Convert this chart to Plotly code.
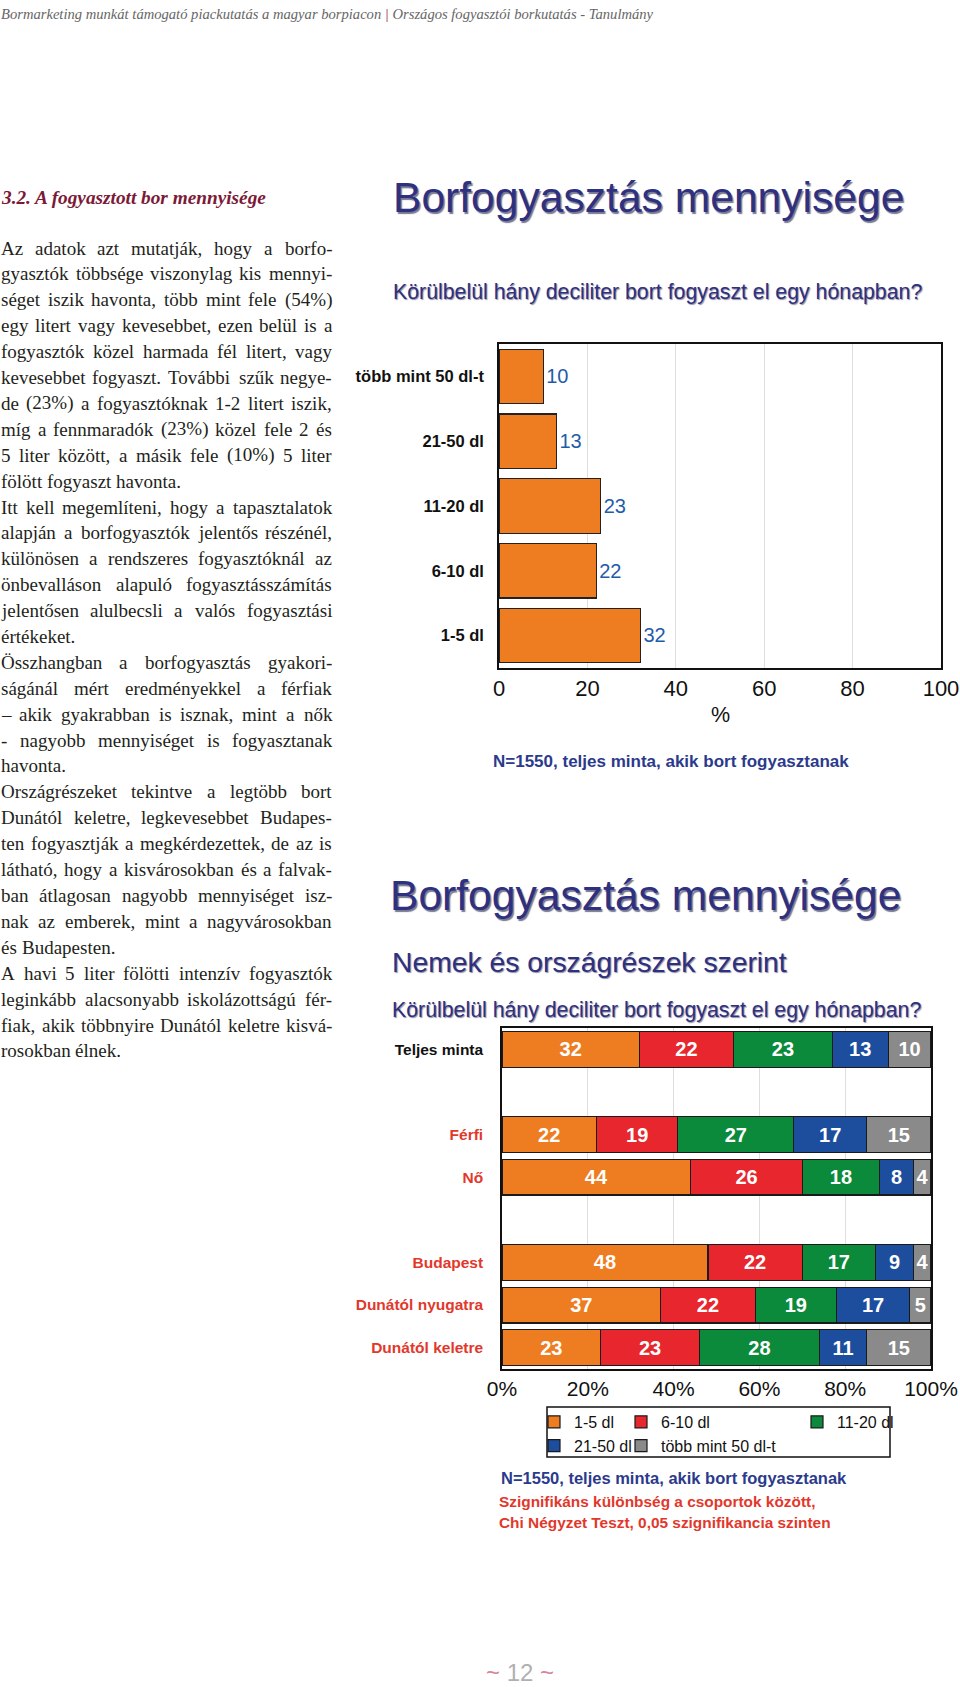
import unicodedata
import plotly.graph_objects as go

W, H = 960, 1687

# ---------------- data ----------------
amount_categories = ["több mint 50 dl-t", "21-50 dl", "11-20 dl", "6-10 dl", "1-5 dl"]
amount_values = [10, 13, 23, 22, 32]
amount_ticks = [0, 20, 40, 60, 80, 100]

group_labels = ["Teljes minta", "Férfi", "Nő", "Budapest", "Dunától nyugatra", "Dunától keletre"]
series_names = ["1-5 dl", "6-10 dl", "11-20 dl", "21-50 dl", "több mint 50 dl-t"]
vals_1_5 = [32, 22, 44, 48, 37, 23]
vals_6_10 = [22, 19, 26, 22, 22, 23]
vals_11_20 = [23, 27, 18, 17, 19, 28]
vals_21_50 = [13, 17, 8, 9, 17, 11]
vals_50_plus = [10, 15, 4, 4, 5, 15]
pct_ticks = [0, 20, 40, 60, 80, 100]
pct_tick_labels = ["0%", "20%", "40%", "60%", "80%", "100%"]

body_lines = [
    "Az adatok azt mutatják, hogy a borfo-",
    "gyasztók többsége viszonylag kis mennyi-",
    "séget iszik havonta, több mint fele (54%)",
    "egy litert vagy kevesebbet, ezen belül is a",
    "fogyasztók közel harmada fél litert, vagy",
    "kevesebbet fogyaszt. További szűk negye-",
    "de (23%) a fogyasztóknak 1-2 litert iszik,",
    "míg a fennmaradók (23%) közel fele 2 és",
    "5 liter között, a másik fele (10%) 5 liter",
    "fölött fogyaszt havonta.",
    "Itt kell megemlíteni, hogy a tapasztalatok",
    "alapján a borfogyasztók jelentős részénél,",
    "különösen a rendszeres fogyasztóknál az",
    "önbevalláson alapuló fogyasztásszámítás",
    "jelentősen alulbecsli a valós fogyasztási",
    "értékeket.",
    "Összhangban a borfogyasztás gyakori-",
    "ságánál mért eredményekkel a férfiak",
    "– akik gyakrabban is isznak, mint a nők",
    "- nagyobb mennyiséget is fogyasztanak",
    "havonta.",
    "Országrészeket tekintve a legtöbb bort",
    "Dunától keletre, legkevesebbet Budapes-",
    "ten fogyasztják a megkérdezettek, de az is",
    "látható, hogy a kisvárosokban és a falvak-",
    "ban átlagosan nagyobb mennyiséget isz-",
    "nak az emberek, mint a nagyvárosokban",
    "és Budapesten.",
    "A havi 5 liter fölötti intenzív fogyasztók",
    "leginkább alacsonyabb iskolázottságú fér-",
    "fiak, akik többnyire Dunától keletre kisvá-",
    "rosokban élnek.",
]
paragraph_ends = {9, 15, 20, 27, 31}

# ---------------- styles ----------------
SANS = "Liberation Sans, Arial, sans-serif"
SERIF = "Liberation Serif, Times New Roman, serif"
NAVY = "#2e3080"
ORANGE = "#ee7d22"
series_colors = ["#ee7d22", "#e8262d", "#0b8a3b", "#1d4e9e", "#8a8a8a"]
RED_LABEL = "#e2382c"


def px(x):
    return x / W


def py(y):
    return 1 - y / H


def ann(text, x, y, size, color, family=SANS, xanchor="left", weight="normal",
        style="normal", shadow="none"):
    return dict(text=text, x=px(x), y=py(y), xref="paper", yref="paper",
                xanchor=xanchor, yanchor="middle", showarrow=False, borderpad=0,
                font=dict(family=family, size=size, color=color, weight=weight,
                          style=style, shadow=shadow))


# Times / Liberation Serif advance widths (1/1000 em)
TW = {' ': 250, ',': 250, '.': 250, '-': 333, '–': 500, '(': 333, ')': 333, '%': 833,
      '?': 444, ':': 278, ';': 278}
for c in "0123456789":
    TW[c] = 500
TW.update(dict(zip("ABCDEFGHIJKLMNOPQRSTUVWXYZ",
                   [722, 667, 667, 722, 611, 556, 722, 722, 333, 389, 722, 611, 889,
                    722, 722, 556, 722, 667, 556, 611, 722, 722, 944, 722, 722, 611])))
TW.update(dict(zip("abcdefghijklmnopqrstuvwxyz",
                   [444, 500, 444, 500, 444, 333, 500, 500, 278, 278, 500, 278, 778,
                    500, 500, 500, 500, 333, 389, 278, 500, 500, 722, 500, 500, 444])))


def text_width(s, size):
    tot = 0
    for ch in s:
        base = unicodedata.normalize("NFD", ch)[0]
        tot += TW.get(ch, TW.get(base, 500))
    return tot * size / 1000


annotations = []

# header
annotations.append(ann(
    "Bormarketing munkát támogató piackutatás a magyar borpiacon "
    "<span style='color:#8b1a3a'>|</span> Országos fogyasztói borkutatás - Tanulmány",
    0, 14, 14.6, "#666666", family=SERIF, style="italic"))

# section title
annotations.append(ann("3.2. A fogyasztott bor mennyisége", 0, 197, 19.3, "#7a1a38",
                       family=SERIF, weight="bold", style="italic"))

# body text, justified by placing words
BODY_SIZE = 19
COL_X0, COL_W = 0, 331
LINE0, LINE_STEP = 248, 25.9
for i, line in enumerate(body_lines):
    yline = LINE0 + i * LINE_STEP
    words = line.split(" ")
    widths = [text_width(w, BODY_SIZE) for w in words]
    space = text_width(" ", BODY_SIZE)
    if i not in paragraph_ends and len(words) > 1:
        gap = (COL_W - sum(widths)) / (len(words) - 1)
        gap = max(gap, space)
    else:
        gap = space
    xpos = COL_X0
    for w, wd in zip(words, widths):
        annotations.append(ann(w, xpos, yline, BODY_SIZE, "#231f20", family=SERIF))
        xpos += wd + gap

TITLE_SHADOW = "1.5px 1.5px 1px rgba(30,30,70,0.6)"
SUB_SHADOW = "1px 1px 1px rgba(30,30,70,0.5)"
# chart 1 texts
annotations.append(ann("Borfogyasztás mennyisége", 392, 197, 42.6, NAVY, shadow=TITLE_SHADOW))
annotations.append(ann("Körülbelül hány deciliter bort fogyaszt el egy hónapban?", 392, 292,
                       21.3, NAVY, shadow=SUB_SHADOW))
annotations.append(ann("%", 720, 715, 21.5, "#111111", xanchor="center"))
annotations.append(ann("N=1550, teljes minta, akik bort fogyasztanak", 492, 762, 17,
                       "#2b3a8c", weight="bold"))

# chart 2 texts
annotations.append(ann("Borfogyasztás mennyisége", 389, 895, 42.6, NAVY, shadow=TITLE_SHADOW))
annotations.append(ann("Nemek és országrészek szerint", 391, 962, 28.3, NAVY, shadow=SUB_SHADOW))
annotations.append(ann("Körülbelül hány deciliter bort fogyaszt el egy hónapban?", 391, 1010,
                       21.3, NAVY, shadow=SUB_SHADOW))
annotations.append(ann("N=1550, teljes minta, akik bort fogyasztanak", 500, 1478, 16.5,
                       "#2b3a8c", weight="bold"))
annotations.append(ann("Szignifikáns különbség a csoportok között,", 498, 1501, 15.4,
                       RED_LABEL, weight="bold"))
annotations.append(ann("Chi Négyzet Teszt, 0,05 szignifikancia szinten", 498, 1522, 15.4,
                       RED_LABEL, weight="bold"))

# page number
annotations.append(ann("<span style='color:#d9849a'>~</span> 12 <span style='color:#d9849a'>~</span>",
                       520, 1672, 24, "#b0b0b0", xanchor="center"))

fig = go.Figure()

# chart 1 bars
fig.add_trace(go.Bar(
    y=amount_categories, x=amount_values, orientation="h",
    marker=dict(color=ORANGE, line=dict(color="#222222", width=1.2)),
    text=[str(v) for v in amount_values], textposition="outside",
    textfont=dict(family=SANS, size=22, color="#1f5ca8"),
    cliponaxis=False, showlegend=False, xaxis="x", yaxis="y", hoverinfo="skip"))

# chart 2 stacked bars
spacer1, spacer2 = "\u200b", "\u200b\u200b"
cat_order2 = [group_labels[0], spacer1, group_labels[1], group_labels[2], spacer2,
              group_labels[3], group_labels[4], group_labels[5]]
legend_ids = ["legend", "legend2", "legend3", "legend", "legend2"]
for name, vals, color, lg in zip(series_names,
                                 [vals_1_5, vals_6_10, vals_11_20, vals_21_50, vals_50_plus],
                                 series_colors, legend_ids):
    fig.add_trace(go.Bar(
        y=group_labels, x=vals, orientation="h", name=name,
        marker=dict(color=color, line=dict(color="#1a1a1a", width=1.2)),
        text=[str(v) for v in vals], textposition="inside", insidetextanchor="middle",
        textfont=dict(family=SANS, size=20, color="white", weight="bold"),
        xaxis="x2", yaxis="y2", legend=lg, hoverinfo="skip"))

tick_text2 = []
for g in group_labels:
    col = "#111111" if g == "Teljes minta" else RED_LABEL
    tick_text2.append(f"<span style='color:{col}'>{g}</span>")

legend_common = dict(orientation="v", bgcolor="rgba(0,0,0,0)", borderwidth=0,
                     font=dict(family=SANS, size=16, color="#111111"),
                     traceorder="normal", itemwidth=30, xanchor="left", yanchor="top",
                     tracegroupgap=0, y=py(1405))

fig.update_layout(
    width=W, height=H, margin=dict(l=0, r=0, t=0, b=0, autoexpand=False),
    paper_bgcolor="white", plot_bgcolor="white",
    font=dict(family=SANS, color="#111111"),
    barmode="stack", bargap=0.16,
    uniformtext=dict(minsize=19, mode="show"),
    annotations=annotations,
    xaxis=dict(domain=[px(499), px(941)], anchor="y", range=[0, 100],
               tickmode="array", tickvals=amount_ticks, ticklabeloverflow="allow",
               showgrid=True, gridcolor="#dedede", gridwidth=1, zeroline=False,
               showline=True, linecolor="#111111", linewidth=1.5, mirror=True,
               ticks="", tickfont=dict(family=SANS, size=22, color="#111111")),
    yaxis=dict(domain=[py(668), py(344)], anchor="x", type="category",
               categoryorder="array", categoryarray=amount_categories, autorange="reversed",
               showgrid=False, showline=True, linecolor="#111111", linewidth=1.5, mirror=True,
               ticks="", ticklabelstandoff=10,
               tickfont=dict(family=SANS, size=16.5, color="#111111", weight="bold")),
    xaxis2=dict(domain=[px(502), px(931)], anchor="y2", range=[0, 100],
                tickmode="array", tickvals=pct_ticks, ticktext=pct_tick_labels,
                ticklabeloverflow="allow",
                showgrid=True, gridcolor="#dedede", gridwidth=1, zeroline=False,
                showline=True, linecolor="#111111", linewidth=1.5, mirror=True,
                ticks="", tickfont=dict(family=SANS, size=21, color="#111111")),
    yaxis2=dict(domain=[py(1369), py(1028)], anchor="x2", type="category",
                categoryorder="array", categoryarray=cat_order2, autorange="reversed",
                tickmode="array", tickvals=group_labels, ticktext=tick_text2,
                showgrid=False, showline=True, linecolor="#111111", linewidth=1.5, mirror=True,
                ticks="", ticklabelstandoff=14,
                tickfont=dict(family=SANS, size=15.5, weight="bold")),
    legend=dict(legend_common, x=px(534)),
    legend2=dict(legend_common, x=px(621)),
    legend3=dict(legend_common, x=px(797)),
    shapes=[dict(type="rect", xref="paper", yref="paper",
                 x0=px(547), x1=px(890), y0=py(1457), y1=py(1407),
                 line=dict(color="#111111", width=1.5), fillcolor="rgba(0,0,0,0)")],
)

fig.write_html("out.html", config={"displayModeBar": False},
               post_script="document.body.style.margin='0';")
